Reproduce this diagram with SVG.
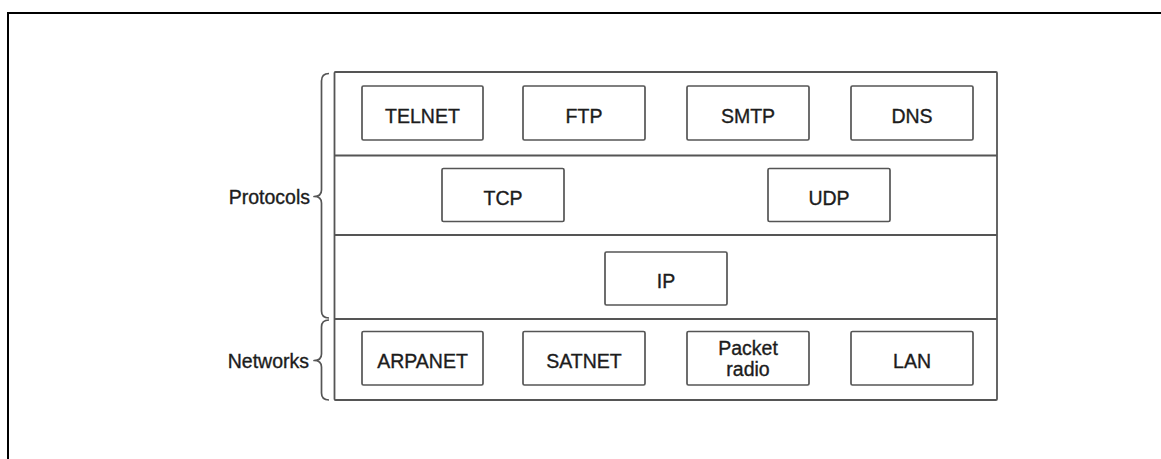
<svg xmlns="http://www.w3.org/2000/svg" width="1161" height="459" viewBox="0 0 1161 459">
  <style>
    .frame { fill: none; stroke: #000; stroke-width: 2; }
    .layer { fill: none; stroke: #555; stroke-width: 1.8; }
    .box { fill: #fff; stroke: #555; stroke-width: 1.7; }
    .brace { fill: none; stroke: #555; stroke-width: 1.7; stroke-linejoin: round; }
    .lbl, .side { font-family: "Liberation Sans", Arial, sans-serif; font-size: 19.5px; fill: #1c1c1c; stroke: #1c1c1c; stroke-width: 0.35; }
    .lbl { text-anchor: middle; }
    .side { text-anchor: end; }
  </style>
  <rect width="1161" height="459" fill="#fff"/>
  <rect class="frame" x="8" y="13" width="1200" height="500"/>

  <!-- layered stack frame -->
  <g id="stack">
    <rect class="layer" x="334.5" y="72" width="662.5" height="328" rx="1"/>
    <line class="layer" x1="334.5" y1="155.5" x2="997" y2="155.5"/>
    <line class="layer" x1="334.5" y1="235" x2="997" y2="235"/>
    <line class="layer" x1="334.5" y1="319" x2="997" y2="319"/>
  </g>

  <!-- application layer -->
  <g id="telnet"><rect class="box" x="362" y="86" width="121" height="54" rx="1.5"/><text class="lbl" x="422.5" y="122.5">TELNET</text></g>
  <g id="ftp"><rect class="box" x="523" y="86" width="122" height="54" rx="1.5"/><text class="lbl" x="584" y="122.5">FTP</text></g>
  <g id="smtp"><rect class="box" x="687" y="86" width="122" height="54" rx="1.5"/><text class="lbl" x="748" y="122.5">SMTP</text></g>
  <g id="dns"><rect class="box" x="851" y="86" width="122" height="54" rx="1.5"/><text class="lbl" x="912" y="122.5">DNS</text></g>

  <!-- transport layer -->
  <g id="tcp"><rect class="box" x="442" y="168.5" width="122" height="53" rx="1.5"/><text class="lbl" x="503" y="204.5">TCP</text></g>
  <g id="udp"><rect class="box" x="768" y="168.5" width="122" height="53" rx="1.5"/><text class="lbl" x="829" y="204.5">UDP</text></g>

  <!-- internet layer -->
  <g id="ip"><rect class="box" x="605" y="252" width="122" height="53" rx="1.5"/><text class="lbl" x="666" y="288">IP</text></g>

  <!-- network layer -->
  <g id="arpanet"><rect class="box" x="362" y="331.5" width="121" height="53.5" rx="1.5"/><text class="lbl" x="422.5" y="367.5">ARPANET</text></g>
  <g id="satnet"><rect class="box" x="523" y="331.5" width="122" height="53.5" rx="1.5"/><text class="lbl" x="584" y="367.5">SATNET</text></g>
  <g id="packet-radio"><rect class="box" x="687" y="331.5" width="122" height="53.5" rx="1.5"/><text class="lbl" x="748" y="355">Packet</text><text class="lbl" x="748" y="376">radio</text></g>
  <g id="lan"><rect class="box" x="851" y="331.5" width="122" height="53.5" rx="1.5"/><text class="lbl" x="912" y="367.5">LAN</text></g>

  <!-- side braces -->
  <g id="protocols">
    <path class="brace" d="M 329 73.5 Q 321.5 73.5 321.5 81 L 321.5 190 Q 321.5 196.5 314 196.5 Q 321.5 196.5 321.5 203 L 321.5 311 Q 321.5 318 329 318"/>
    <text class="side" x="310" y="204">Protocols</text>
  </g>
  <g id="networks">
    <path class="brace" d="M 329 320 Q 321.5 320 321.5 327 L 321.5 354 Q 321.5 360.5 314 360.5 Q 321.5 360.5 321.5 367 L 321.5 393 Q 321.5 400 329 400"/>
    <text class="side" x="309" y="367.5">Networks</text>
  </g>
</svg>
